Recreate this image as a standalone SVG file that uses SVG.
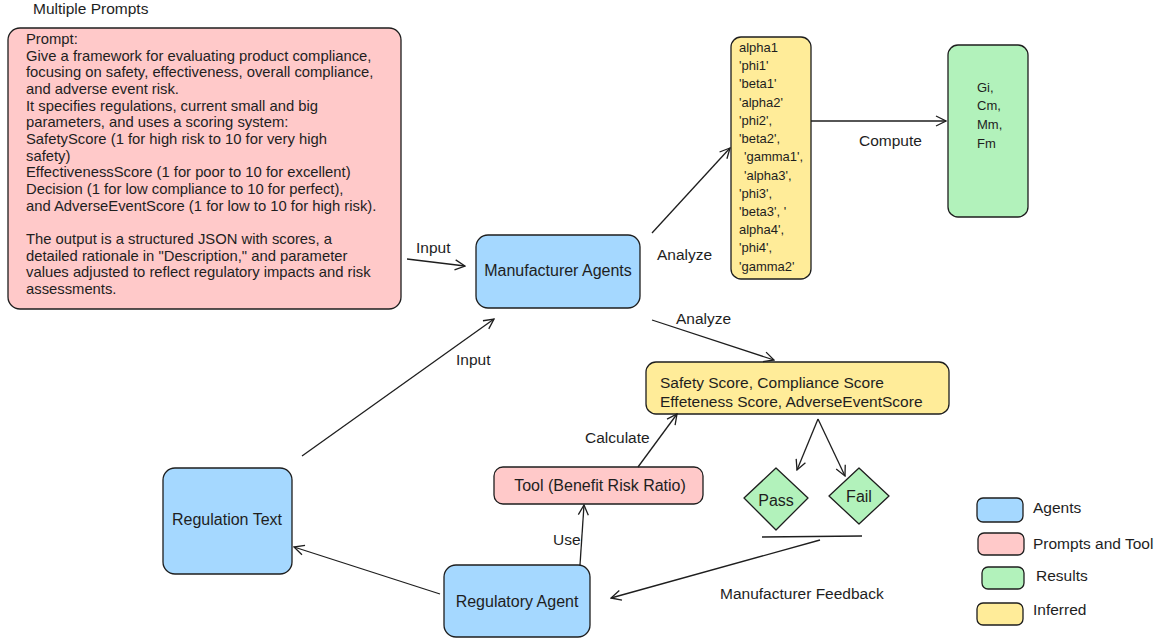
<svg xmlns="http://www.w3.org/2000/svg" width="1164" height="640" viewBox="0 0 1164 640">
<defs>
<marker id="arr" viewBox="0 0 12 12" refX="11" refY="6" markerWidth="12" markerHeight="12" markerUnits="userSpaceOnUse" orient="auto">
<path d="M1,1 L11,6 L1,11" fill="none" stroke="#1e1e1e" stroke-width="1.3"/>
</marker>
</defs>
<style>
text{font-family:"Liberation Sans",Arial,sans-serif;fill:#1e1e1e;}
.node{stroke:#1e1e1e;stroke-width:1.3;}
.blue{fill:#a5d8ff;}
.pink{fill:#ffc9c9;}
.green{fill:#b2f2bb;}
.yellow{fill:#ffec99;}
.conn{fill:none;stroke:#1e1e1e;stroke-width:1.3;marker-end:url(#arr);}
.plain{fill:none;stroke:#1e1e1e;stroke-width:1.3;}
.lbl{font-size:15.5px;}
.t13{font-size:13px;}
.pr{font-size:14.8px;}
.t16{font-size:16px;}
</style>
<rect width="1164" height="640" fill="#ffffff"/>

<text x="33" y="14" class="lbl">Multiple Prompts</text>

<g id="prompt">
<rect x="8" y="28" width="393" height="281" rx="12" class="node pink"/>
<text class="pr">
<tspan x="26" y="44">Prompt:</tspan>
<tspan x="26" y="61">Give a framework for evaluating product compliance,</tspan>
<tspan x="26" y="77">focusing on safety, effectiveness, overall compliance,</tspan>
<tspan x="26" y="94">and adverse event risk.</tspan>
<tspan x="26" y="111">It specifies regulations, current small and big</tspan>
<tspan x="26" y="127">parameters, and uses a scoring system:</tspan>
<tspan x="26" y="144">SafetyScore (1 for high risk to 10 for very high</tspan>
<tspan x="26" y="161">safety)</tspan>
<tspan x="26" y="177">EffectivenessScore (1 for poor to 10 for excellent)</tspan>
<tspan x="26" y="194">Decision (1 for low compliance to 10 for perfect),</tspan>
<tspan x="26" y="211">and AdverseEventScore (1 for low to 10 for high risk).</tspan>
<tspan x="26" y="244">The output is a structured JSON with scores, a</tspan>
<tspan x="26" y="261">detailed rationale in "Description," and parameter</tspan>
<tspan x="26" y="277">values adjusted to reflect regulatory impacts and risk</tspan>
<tspan x="26" y="294">assessments.</tspan>
</text>
</g>

<g id="manufacturer">
<rect x="476" y="235" width="164" height="73" rx="12" class="node blue"/>
<text x="558" y="276" text-anchor="middle" class="t16">Manufacturer Agents</text>
</g>

<g id="params">
<rect x="731" y="37" width="80" height="242" rx="10" class="node yellow"/>
<text class="t13">
<tspan x="739" y="52">alpha1</tspan>
<tspan x="739" y="70">'phi1'</tspan>
<tspan x="739" y="88">'beta1'</tspan>
<tspan x="739" y="107">'alpha2'</tspan>
<tspan x="739" y="125">'phi2',</tspan>
<tspan x="739" y="143">'beta2',</tspan>
<tspan x="744" y="161">'gamma1',</tspan>
<tspan x="744" y="180">'alpha3',</tspan>
<tspan x="739" y="198">'phi3',</tspan>
<tspan x="739" y="216">'beta3', '</tspan>
<tspan x="739" y="234">alpha4',</tspan>
<tspan x="739" y="252">'phi4',</tspan>
<tspan x="739" y="271">'gamma2'</tspan>
</text>
</g>

<g id="results">
<rect x="948" y="45" width="80" height="172" rx="10" class="node green"/>
<text class="t13">
<tspan x="977" y="92">Gi,</tspan>
<tspan x="977" y="110">Cm,</tspan>
<tspan x="977" y="129">Mm,</tspan>
<tspan x="977" y="148">Fm</tspan>
</text>
</g>

<g id="scores">
<rect x="646" y="362" width="303" height="52" rx="10" class="node yellow"/>
<text class="lbl">
<tspan x="660" y="388">Safety Score, Compliance Score</tspan>
<tspan x="660" y="407">Effeteness Score, AdverseEventScore</tspan>
</text>
</g>

<g id="regulation-text">
<rect x="163" y="468" width="129" height="106" rx="12" class="node blue"/>
<text x="227" y="525" text-anchor="middle" class="t16">Regulation Text</text>
</g>

<g id="tool">
<rect x="494" y="467" width="209" height="37" rx="9" class="node pink"/>
<text x="600" y="491" text-anchor="middle" class="t16">Tool (Benefit Risk Ratio)</text>
</g>

<g id="regulatory-agent">
<rect x="444" y="565" width="146" height="72" rx="12" class="node blue"/>
<text x="517" y="607" text-anchor="middle" class="t16">Regulatory Agent</text>
</g>

<g id="pass">
<path d="M776,468 L808,498 L776,530 L744,498 Z" class="node green" stroke-linejoin="round"/>
<text x="776" y="506" text-anchor="middle" class="t16">Pass</text>
</g>

<g id="fail">
<path d="M859,468 L889,496 L859,524 L829,496 Z" class="node green" stroke-linejoin="round"/>
<text x="859" y="502" text-anchor="middle" class="t16">Fail</text>
</g>

<g id="connectors">
<path d="M407,259 L465,266" class="conn"/>
<path d="M652,233 L730,148" class="conn"/>
<path d="M811,121 L946,121" class="conn"/>
<path d="M652,320 L774,360" class="conn"/>
<path d="M302,456 L494,319" class="conn"/>
<path d="M638,467 L677,414" class="conn"/>
<path d="M580,565 L584,505" class="conn"/>
<path d="M440,594 L294,547" class="conn"/>
<path d="M818,419 L797,470" class="conn"/>
<path d="M818,419 L845,476" class="conn"/>
<path d="M762,537 L862,536" class="plain"/>
<path d="M820,540 L611,598" class="conn"/>
</g>

<g id="labels">
<text x="416" y="253" class="lbl">Input</text>
<text x="657" y="260" class="lbl">Analyze</text>
<text x="859" y="146" class="lbl">Compute</text>
<text x="676" y="324" class="lbl">Analyze</text>
<text x="456" y="365" class="lbl">Input</text>
<text x="585" y="443" class="lbl">Calculate</text>
<text x="553" y="545" class="lbl">Use</text>
<text x="720" y="599" class="lbl">Manufacturer Feedback</text>
</g>

<g id="legend">
<rect x="977" y="498" width="46" height="24" rx="6" class="node blue"/>
<text x="1033" y="513" class="lbl">Agents</text>
<rect x="978" y="533" width="46" height="22" rx="6" class="node pink"/>
<text x="1033" y="549" class="lbl">Prompts and Tool</text>
<rect x="982" y="567" width="42" height="22" rx="6" class="node green"/>
<text x="1036" y="581" class="lbl">Results</text>
<rect x="977" y="603" width="46" height="22" rx="6" class="node yellow"/>
<text x="1033" y="615" class="lbl">Inferred</text>
</g>
</svg>
